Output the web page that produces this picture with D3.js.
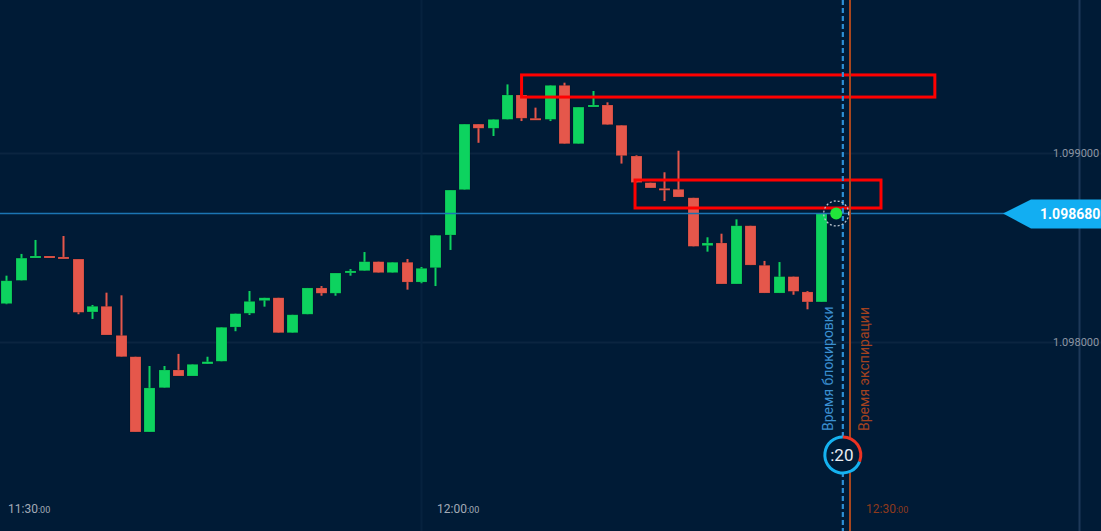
<!DOCTYPE html>
<html><head><meta charset="utf-8">
<script src="https://cdn.jsdelivr.net/npm/d3@7"></script>
<style>html,body{margin:0;padding:0;background:#001b36;overflow:hidden}svg{display:block}</style>
</head><body>
<svg id="c" width="1101" height="531"></svg>
<script>
// ---- data ----
const startMinute = "11:31"; // first candle time; one candle per minute
const opens  = [1.098203,1.098326,1.098447,1.098455,1.098450,1.098439,1.098159,1.098189,1.098035,1.097922,
                1.097524,1.097758,1.097852,1.097820,1.097884,1.097898,1.098079,1.098152,1.098219,1.098234,
                1.098049,1.098147,1.098286,1.098258,1.098367,1.098377,1.098425,1.098367,1.098422,1.098317,
                1.098393,1.098566,1.098806,1.099153,1.099131,1.099178,1.099307,1.099184,1.099178,1.099358,
                1.099049,1.099245,1.099254,1.099147,1.098984,1.098843,1.098813,1.098808,1.098763,1.098510,
                1.098524,1.098307,1.098615,1.098406,1.098259,1.098346,1.098265,1.098212];
const highs  = [1.098351,1.098466,1.098540,1.098455,1.098561,1.098439,1.098196,1.098261,1.098247,1.097922,
                1.097873,1.097873,1.097937,1.097882,1.097922,1.098078,1.098150,1.098270,1.098234,1.098234,
                1.098144,1.098286,1.098296,1.098365,1.098386,1.098476,1.098425,1.098422,1.098439,1.098397,
                1.098565,1.098804,1.099153,1.099153,1.099178,1.099363,1.099307,1.099240,1.099358,1.099372,
                1.099243,1.099328,1.099268,1.099147,1.098988,1.098843,1.098898,1.099012,1.098763,1.098554,
                1.098573,1.098649,1.098615,1.098429,1.098423,1.098346,1.098270,1.098680];
const lows   = [1.098200,1.098326,1.098447,1.098448,1.098442,1.098147,1.098122,1.098037,1.097922,1.097524,
                1.097524,1.097758,1.097820,1.097820,1.097884,1.097898,1.098057,1.098143,1.098187,1.098049,
                1.098049,1.098147,1.098245,1.098245,1.098351,1.098377,1.098367,1.098367,1.098277,1.098311,
                1.098296,1.098487,1.098806,1.099054,1.099090,1.099178,1.099169,1.099175,1.099169,1.099049,
                1.099049,1.099245,1.099150,1.098944,1.098844,1.098815,1.098746,1.098767,1.098506,1.098478,
                1.098307,1.098307,1.098407,1.098259,1.098259,1.098250,1.098173,1.098212];
const closes = [1.098324,1.098444,1.098455,1.098448,1.098442,1.098157,1.098189,1.098037,1.097922,1.097524,
                1.097757,1.097852,1.097820,1.097882,1.097896,1.098078,1.098150,1.098215,1.098234,1.098049,
                1.098144,1.098286,1.098258,1.098365,1.098376,1.098425,1.098367,1.098422,1.098317,1.098390,
                1.098565,1.098804,1.099153,1.099131,1.099178,1.099307,1.099184,1.099175,1.099358,1.099049,
                1.099243,1.099254,1.099150,1.098986,1.098844,1.098815,1.098804,1.098767,1.098506,1.098524,
                1.098307,1.098615,1.098407,1.098259,1.098346,1.098268,1.098212,1.098680];
const currentPrice = 1.098680;
const priceTicks = [1.098, 1.099];
const timeTicks = ["11:30","12:00","12:30"];
const blockTime = "12:29:30";
const expiryTime = "12:30:00";
const dotTime = "12:29";
const zones = [ // [start time, end time, low price, high price]
  ["12:07:02","12:35:56",1.099296,1.099413],
  ["12:14:58","12:32:10",1.098709,1.098857]
];
const timerLabel = ":20";
const timerFraction = 0.31;

// ---- scales ----
const W = 1101, H = 531;
const svg = d3.select("#c");
const parse = s => { const [h,m,sec] = s.split(":").map(Number); return new Date(2024,0,1,h,m,sec||0); };
const x = d3.scaleTime().domain([parse("11:30"), parse("12:30")]).range([-8, 850]);
const y = d3.scaleLinear().domain([1.098, 1.099]).range([342, 153]);
const t0 = parse(startMinute);
const candles = opens.map((o,i)=>({t:new Date(t0.getTime()+i*60000),o,h:highs[i],l:lows[i],c:closes[i]}));

svg.append("rect").attr("width",W).attr("height",H).attr("fill","#001b36");

// grid
svg.append("g").selectAll("line").data(priceTicks).join("line")
  .attr("x1",0).attr("x2",W).attr("y1",d=>Math.round(y(d))+0.5).attr("y2",d=>Math.round(y(d))+0.5)
  .attr("stroke","#0b2540").attr("stroke-width",2);
svg.append("g").selectAll("line").data(timeTicks.slice(0,2)).join("line")
  .attr("x1",d=>Math.round(x(parse(d)))+0.5).attr("x2",d=>Math.round(x(parse(d)))+0.5).attr("y1",0).attr("y2",H)
  .attr("stroke","#06223e").attr("stroke-width",2);
svg.append("line").attr("x1",1079.5).attr("x2",1079.5).attr("y1",0).attr("y2",H)
  .attr("stroke","#1d3858").attr("stroke-width",2);

// candles
const green = "#0dd35f", red = "#e5574b";
const bw = 11;
const cg = svg.append("g");
cg.selectAll("line").data(candles).join("line")
  .attr("x1",d=>Math.round(x(d.t))+0.5).attr("x2",d=>Math.round(x(d.t))+0.5)
  .attr("y1",d=>y(d.h)).attr("y2",d=>y(d.l))
  .attr("stroke",d=>d.c>=d.o?green:red).attr("stroke-width",2);
cg.selectAll("rect").data(candles).join("rect")
  .attr("x",d=>Math.round(x(d.t))+0.5-bw/2)
  .attr("y",d=>y(Math.max(d.o,d.c)))
  .attr("width",bw)
  .attr("height",d=>Math.max(2, y(Math.min(d.o,d.c))-y(Math.max(d.o,d.c))))
  .attr("fill",d=>d.c>=d.o?green:red)
  .attr("stroke","rgba(0,0,0,0.25)").attr("stroke-width",0.6);

// current price line
svg.append("line").attr("x1",0).attr("x2",1010).attr("y1",y(currentPrice)).attr("y2",y(currentPrice))
  .attr("stroke","#1b75b3").attr("stroke-width",1.5);

// zones
svg.append("g").selectAll("rect").data(zones).join("rect")
  .attr("x",d=>x(parse(d[0]))).attr("y",d=>y(d[3]))
  .attr("width",d=>x(parse(d[1]))-x(parse(d[0]))).attr("height",d=>y(d[2])-y(d[3]))
  .attr("fill","none").attr("stroke","#ff0000").attr("stroke-width",3);

// blocking and expiry lines
const bx = x(parse(blockTime)), ex = x(parse(expiryTime));
svg.append("line").attr("x1",bx).attr("x2",bx).attr("y1",0).attr("y2",H)
  .attr("stroke","#2d8fd5").attr("stroke-width",2.2).attr("stroke-dasharray","5,3");
svg.append("line").attr("x1",ex).attr("x2",ex).attr("y1",0).attr("y2",H)
  .attr("stroke","#a9461d").attr("stroke-width",2);

// vertical labels
svg.append("text").attr("transform",`translate(${bx-10},431) rotate(-90)`)
  .attr("font-family","Roboto, Arial, sans-serif").attr("font-size",14).attr("fill","#3b8fd0")
  .text("Время блокировки");
svg.append("text").attr("transform",`translate(${ex+19},431) rotate(-90)`)
  .attr("font-family","Roboto, Arial, sans-serif").attr("font-size",14).attr("fill","#a4421f")
  .text("Время экспирации");

// current dot
const dx = x(parse(dotTime)), dy = y(currentPrice);
svg.append("circle").attr("cx",dx+0.5).attr("cy",dy).attr("r",12.5).attr("fill","none")
  .attr("stroke","#b8c2cc").attr("stroke-width",1.3).attr("stroke-dasharray","2,2");
svg.append("circle").attr("cx",dx+0.5).attr("cy",dy).attr("r",6).attr("fill","#22e63a");

// timer
const tc = svg.append("g").attr("transform",`translate(${bx},455)`);
tc.append("circle").attr("r",18).attr("fill","#001b36");
const arc = d3.arc().innerRadius(16.5).outerRadius(19.5);
tc.append("path").attr("d",arc({startAngle:2*Math.PI*timerFraction,endAngle:2*Math.PI})).attr("fill","#15b2f0");
tc.append("path").attr("d",arc({startAngle:0,endAngle:2*Math.PI*timerFraction})).attr("fill","#ee3322");
tc.append("text").attr("text-anchor","middle").attr("dy","0.36em").attr("x",-1)
  .attr("font-family","Roboto, Arial, sans-serif").attr("font-size",17).attr("fill","#e8edf2").text(timerLabel);

// price label
const py = y(currentPrice);
svg.append("path").attr("d",`M1003,${py} L1031,${py-14} L1101,${py-14} L1101,${py+15} L1031,${py+15} Z`)
  .attr("fill","#12aef2");
svg.append("text").attr("x",1040).attr("y",py).attr("dy","0.36em")
  .attr("font-family","Roboto, Arial, sans-serif").attr("font-size",14).attr("font-weight","bold")
  .attr("fill","#ffffff").text(d3.format(".6f")(currentPrice));

// price axis labels
svg.append("g").selectAll("text").data(priceTicks).join("text")
  .attr("x",1053).attr("y",d=>y(d)).attr("dy","0.36em")
  .attr("font-family","Roboto, Arial, sans-serif").attr("font-size",11).attr("fill","#8d96a3")
  .text(d=>d3.format(".6f")(d));

// time axis labels
const tl = svg.append("g").selectAll("text").data(timeTicks).join("text")
  .attr("x",d=>x(parse(d))+16).attr("y",513)
  .attr("font-family","Roboto, Arial, sans-serif").attr("font-size",12)
  .attr("fill",(d,i)=>i===2?"#8f3a1c":"#a3abb6");
tl.append("tspan").text(d=>d);
tl.append("tspan").attr("font-size",9).text(":00");
</script>
</body></html>
